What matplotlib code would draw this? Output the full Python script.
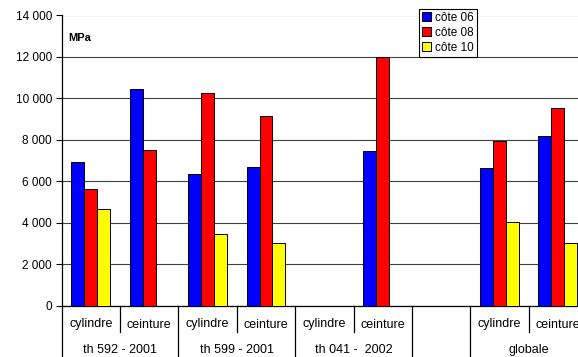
import numpy as np
import matplotlib.pyplot as plt
import matplotlib.transforms as mtransforms

plt.rcParams['font.family'] = ['Liberation Sans', 'DejaVu Sans']

# slots on the x axis (one empty slot between th 041 and globale)
sub_labels = ['cylindre', 'ceinture', 'cylindre', 'ceinture', 'cylindre', 'ceinture', '', 'cylindre', 'ceinture']
groups = ['th 592 - 2001', 'th 599 - 2001', 'th 041 -  2002', '', 'globale']
group_slots = [(0, 1), (2, 3), (4, 5), (6, 6), (7, 8)]

cote06 = [6920, 10450, 6360, 6710, np.nan, 7450, np.nan, 6615, 8200]
cote08 = [5630, 7520, 10270, 9150, np.nan, 12000, np.nan, 7950, 9555]
cote10 = [4650, np.nan, 3445, 2995, np.nan, np.nan, np.nan, 4030, 2995]

series = [('côte 06', cote06, '#0000ff'),
          ('côte 08', cote08, '#ff0000'),
          ('côte 10', cote10, '#ffff00')]

fig = plt.figure(figsize=(5.78, 3.57), dpi=100)
W, H = 578, 357
ax = fig.add_axes([61.7 / W, 1 - 305.5 / H, (587 - 61.7) / W, (305.5 - 15.5) / H])

x = np.arange(len(sub_labels))
bw = 0.222
for i, (name, vals, col) in enumerate(series):
    ax.bar(x + (i - 1) * bw, vals, bw, color=col, edgecolor='black', linewidth=0.7,
           label=name, zorder=3)

ax.set_xlim(-0.5, len(sub_labels) - 0.5)
ax.set_ylim(0, 14000)
ax.set_yticks(np.arange(0, 14001, 2000))
ax.set_yticklabels(['{:,}'.format(v).replace(',', ' ') for v in range(0, 14001, 2000)])
ax.yaxis.grid(True, color='#404040', linewidth=0.8, zorder=0)
ax.tick_params(axis='y', labelsize=8.5, length=4, width=0.8, direction='out', pad=3)
ax.set_xticks([])
for s in ['top', 'right']:
    ax.spines[s].set_visible(False)
ax.spines['left'].set_linewidth(0.9)
ax.spines['bottom'].set_linewidth(0.9)

# category table under the axis
trans = mtransforms.blended_transform_factory(ax.transData, ax.transAxes)
row1 = -(324.5 - 305.5) / 290
row2 = -(350 - 305.5) / 290
short_end = -(332 - 305.5) / 290
long_end = -(360 - 305.5) / 290
group_starts = [g[0] for g in group_slots]
for k in range(len(sub_labels) + 1):
    if k in group_starts or k == len(sub_labels):
        y_end = long_end
    else:
        y_end = short_end
    ax.plot([k - 0.5, k - 0.5], [0, y_end], color='black', linewidth=0.9,
            transform=trans, clip_on=False)
for k, lab in enumerate(sub_labels):
    ax.text(k, row1, lab, transform=trans, ha='center', va='center', fontsize=9)
for (a, b), lab in zip(group_slots, groups):
    ax.text((a + b) / 2, row2, lab, transform=trans, ha='center', va='center', fontsize=9)

ax.text(68 / W, 1 - 38 / H, 'MPa', transform=fig.transFigure, fontsize=8,
        fontweight='bold', va='center', ha='left')

leg = ax.legend(loc='upper left', bbox_to_anchor=(419 / W, 1 - 9 / H),
                bbox_transform=fig.transFigure, fontsize=8.5, frameon=True,
                fancybox=False, edgecolor='black', framealpha=1,
                handlelength=0.8, handleheight=0.8, handletextpad=0.3,
                borderpad=0.25, labelspacing=0.25, borderaxespad=0)
leg.get_frame().set_linewidth(0.8)
leg.set_zorder(5)

fig.savefig('out.png', dpi=100)
